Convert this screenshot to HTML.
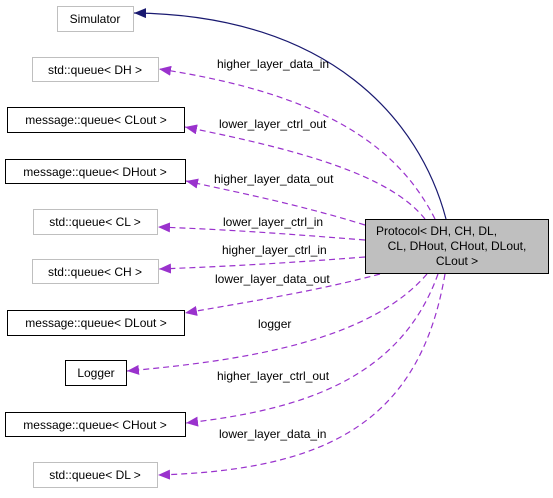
<!DOCTYPE html>
<html><head><style>
body{margin:0;background:#fff}
svg text{font-family:"Liberation Sans",sans-serif;font-size:12px;fill:#000}
</style></head><body>
<svg width="553" height="493" xmlns="http://www.w3.org/2000/svg">
<defs>
<marker id="ap" markerWidth="12" markerHeight="10" refX="12" refY="5" orient="auto" markerUnits="userSpaceOnUse"><path d="M0,0 L12,5 L0,10 z" fill="#9a32cd"/></marker>
<marker id="an" markerWidth="12" markerHeight="10" refX="12" refY="5" orient="auto" markerUnits="userSpaceOnUse"><path d="M0,0 L12,5 L0,10 z" fill="#191970"/></marker>
</defs>
<g fill="none">
<path d="M446,219 C420,120 330,15 134,13" stroke="#191970" stroke-width="1.2" marker-end="url(#an)"/>
<g stroke="#9a32cd" stroke-width="1.2" stroke-dasharray="6,4">
<path d="M435,219 C400,150 330,95 159,69" marker-end="url(#ap)"/>
<path d="M425,219 C390,175 300,150 185,127" marker-end="url(#ap)"/>
<path d="M365,225 C300,205 250,195 186,181" marker-end="url(#ap)"/>
<path d="M365,240 C300,235 240,230 158,227" marker-end="url(#ap)"/>
<path d="M365,257 C300,262 240,266 159,269" marker-end="url(#ap)"/>
<path d="M380,274 C320,290 260,300 185,313" marker-end="url(#ap)"/>
<path d="M427,274 C370,340 250,360 127,371" marker-end="url(#ap)"/>
<path d="M438,274 C400,380 300,410 186,423" marker-end="url(#ap)"/>
<path d="M445,274 C420,420 330,470 158,475" marker-end="url(#ap)"/>
</g>
</g>
<g stroke-width="1" fill="#fff">
<rect x="57.5" y="6.5" width="76" height="25" stroke="#bfbfbf"/>
<rect x="32.5" y="57.5" width="126" height="24" stroke="#bfbfbf"/>
<rect x="7.5" y="107.5" width="177" height="25" stroke="#000"/>
<rect x="5.5" y="159.5" width="180" height="24" stroke="#000"/>
<rect x="33.5" y="209.5" width="124" height="25" stroke="#bfbfbf"/>
<rect x="32.5" y="259.5" width="126" height="24" stroke="#bfbfbf"/>
<rect x="7.5" y="310.5" width="177" height="25" stroke="#000"/>
<rect x="65.5" y="360.5" width="61" height="25" stroke="#000"/>
<rect x="5.5" y="412.5" width="180" height="24" stroke="#000"/>
<rect x="33.5" y="462.5" width="124" height="25" stroke="#bfbfbf"/>
<rect x="365.5" y="219.5" width="183" height="54" stroke="#000" fill="#bfbfbf"/>
</g>
<g text-anchor="middle">
<text x="95" y="23">Simulator</text>
<text x="95" y="74">std::queue&lt; DH &gt;</text>
<text x="96" y="124">message::queue&lt; CLout &gt;</text>
<text x="95" y="176">message::queue&lt; DHout &gt;</text>
<text x="95" y="226">std::queue&lt; CL &gt;</text>
<text x="95" y="276">std::queue&lt; CH &gt;</text>
<text x="96" y="327">message::queue&lt; DLout &gt;</text>
<text x="96" y="377">Logger</text>
<text x="95" y="429">message::queue&lt; CHout &gt;</text>
<text x="95" y="479">std::queue&lt; DL &gt;</text>
<text x="457" y="250">CL, DHout, CHout, DLout,</text>
<text x="457" y="265">CLout &gt;</text>
</g>
<text x="376" y="235">Protocol&lt; DH, CH, DL,</text>
<g>
<text x="217" y="68">higher_layer_data_in</text>
<text x="219" y="128">lower_layer_ctrl_out</text>
<text x="214" y="183">higher_layer_data_out</text>
<text x="223" y="226">lower_layer_ctrl_in</text>
<text x="222" y="254">higher_layer_ctrl_in</text>
<text x="215" y="283">lower_layer_data_out</text>
<text x="258" y="328">logger</text>
<text x="217" y="380">higher_layer_ctrl_out</text>
<text x="219" y="438">lower_layer_data_in</text>
</g>
</svg>
</body></html>
